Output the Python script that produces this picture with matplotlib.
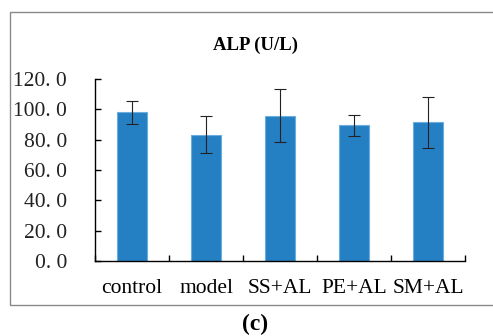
import matplotlib
matplotlib.use('Agg')
import matplotlib.pyplot as plt
from matplotlib.patches import Rectangle
import numpy as np

# data
groups = ['control', 'model', 'SS+AL', 'PE+AL', 'SM+AL']
alp = [98.1, 83.4, 95.9, 89.6, 91.5]
alp_err = [7.6, 12.0, 17.7, 6.9, 16.7]
yticks = [0, 20, 40, 60, 80, 100, 120]
ylabels = ['0. 0', '20. 0', '40. 0', '60. 0', '80. 0', '100. 0', '120. 0']

plt.rcParams['font.family'] = ['Liberation Serif', 'DejaVu Serif']

fig = plt.figure(figsize=(4.93, 3.36), dpi=100)

# outer chart frame (right side runs off the image)
W, H = 493, 336
frame = Rectangle((10 / W, 1 - 305 / H), 1.2, (305 - 12) / H,
                  transform=fig.transFigure, fill=False,
                  edgecolor='#8a8a8a', linewidth=1.0)
fig.patches.append(frame)

ax = fig.add_axes([95 / W, 1 - 261 / H, (465 - 95) / W, (261 - 79) / H])
x = np.arange(len(groups))
ax.bar(x, alp, width=0.4, color='#2580c3', edgecolor='#6aaee0', linewidth=0.8,
       yerr=alp_err, capsize=4.5,
       error_kw=dict(ecolor='#222222', elinewidth=0.8, capthick=0.8))

ax.set_xlim(-0.5, len(groups) - 0.5)
ax.set_ylim(0, 120)
ax.set_yticks(yticks)
ax.set_yticklabels(ylabels, fontsize=15.5, color='#222222')
ax.set_xticks(x)
ax.set_xticklabels(groups, fontsize=15.5)
ax.set_xticks(np.arange(len(groups) + 1) - 0.5, minor=True)

ax.tick_params(axis='y', direction='in', length=4, width=1, pad=20)
ax.tick_params(axis='x', which='major', length=0, pad=13)
ax.tick_params(axis='x', which='minor', direction='in', length=4, width=1)

for s in ['top', 'right']:
    ax.spines[s].set_visible(False)
for s in ['left', 'bottom']:
    ax.spines[s].set_linewidth(1.0)

fig.text(255 / W, 1 - 45 / H, 'ALP (U/L)', ha='center', va='center',
         fontsize=13.5, fontweight='bold')
fig.text(255 / W, 1 - 324 / H, '(c)', ha='center', va='center',
         fontsize=17, fontweight='bold')

fig.savefig('out.png', dpi=100)
